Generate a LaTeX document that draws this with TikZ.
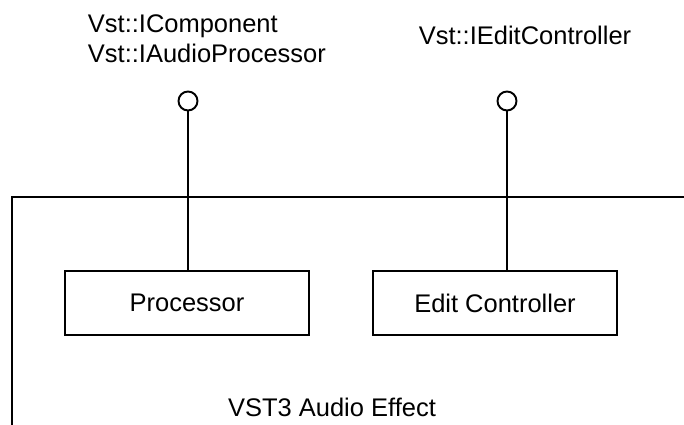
\documentclass[tikz,border=0pt]{standalone}
\usepackage{fontspec}
\setmainfont{Liberation Sans}
\usepackage{tikz}
\usetikzlibrary{}

\tikzset{
    block/.style={draw, minimum width=4.88cm, minimum height=1.28cm, inner sep=0pt},
    port/.style={draw, circle, minimum size=0.38cm, inner sep=0pt},
    label text/.style={anchor=base west, inner sep=0pt}
}

\begin{document}
\begin{tikzpicture}[line width=1.1pt, font=\fontsize{14.5}{17}\selectfont]
    \useasboundingbox (0,0) rectangle (13.68,8.5);
    
    % the plug-in frame, cut off at the page edge
    \begin{scope}
        \clip (0,0) rectangle (13.68,8.5);
        \draw (0.24,-1) rectangle (15,4.56);
    \end{scope}
    \node[anchor=base] (effect) at (6.64,0.16) {VST3 Audio Effect};
    
    \node[block] (proc) at (3.74,2.44) {Processor};
    \node[block] (edit) at (9.9,2.44) {Edit Controller};
    
    % interfaces (lollipops)
    \node[port] (iproc) at (3.76,6.48) {};
    \node[port] (iedit) at (10.14,6.48) {};
    \draw (iproc) -- (iproc |- proc.north);
    \draw (iedit) -- (iedit |- edit.north);
    
    \node[label text] (icomp) at (1.74,7.84) {Vst::IComponent};
    \node[label text] (iaudio) at (1.74,7.25) {Vst::IAudioProcessor};
    \node[anchor=base, inner sep=0pt] (icontr) at (10.5,7.6) {Vst::IEditController};
\end{tikzpicture}
\end{document}
